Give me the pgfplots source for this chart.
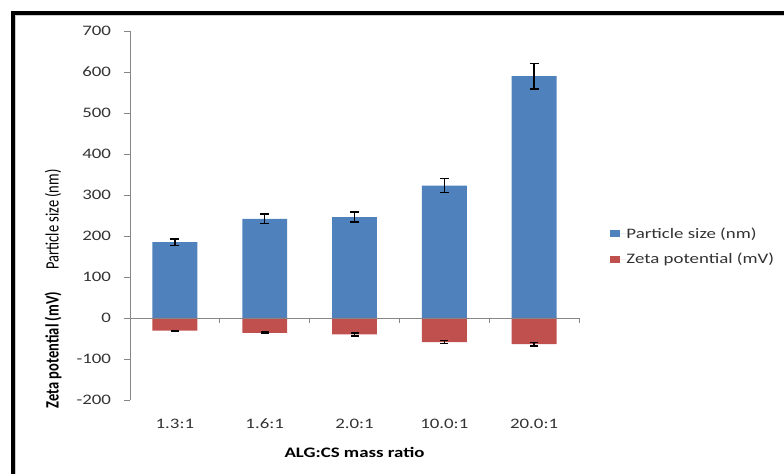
\documentclass[border=0pt]{standalone}
\usepackage{fontspec}
\setmainfont{Carlito}
\usepackage{graphicx}
\usepackage{pgfplots}
\pgfplotsset{compat=1.18}

\definecolor{psblue}{HTML}{4F81BD}
\definecolor{zpred}{HTML}{C0504D}
\definecolor{axgray}{HTML}{868686}
\definecolor{txt}{HTML}{333333}

% horizontally widened text, and its rotated counterpart
\newcommand{\wide}[1]{\scalebox{1.3}[1]{#1}}
\newcommand{\tall}[1]{\scalebox{1}[1.3]{#1}}

\pgfplotsset{
  sqlegend/.style={legend image code/.code={%
      \fill (0bp,-3.5bp) rectangle (10.5bp,3.5bp);
      \path (0bp,0bp) -- (16.5bp,0bp);}},
}

\begin{document}
\fontsize{14.5bp}{17bp}\selectfont
\begin{tikzpicture}[x=1bp,y=1bp,font=\fontsize{14.5bp}{17bp}\selectfont]
\path[use as bounding box] (0,0) rectangle (784,474);
% page frame
\draw[line width=4bp] (13,0) -- (13,461) -- (784,461);
\draw[gray!40, line width=1bp] (15.5,0) -- (15.5,458.5) -- (784,458.5);

\begin{axis}[
  at={(130bp,74bp)}, anchor=south west,
  scale only axis, width=449bp, height=369bp,
  xmin=-0.5, xmax=4.5, ymin=-200, ymax=700,
  axis lines*=left,
  x axis line style={draw=none},
  y axis line style={axgray, line width=0.8bp},
  xtick={0,1,2,3,4},
  xticklabels={\wide{1.3:1},\wide{1.6:1},\wide{2.0:1},\wide{10.0:1},\wide{20.0:1}},
  x tick style={draw=none},
  ytick={-200,-100,0,100,200,300,400,500,600,700},
  yticklabels={\wide{-200},\wide{-100},\wide{0},\wide{100},\wide{200},\wide{300},\wide{400},\wide{500},\wide{600},\wide{700}},
  y tick style={axgray, line width=0.8bp},
  tick align=outside, major tick length=6bp,
  tick label style={font=\fontsize{14.5bp}{17bp}\selectfont, text=txt},
  yticklabel style={xshift=-8bp},
  xticklabel style={yshift=-8bp},
  bar width=0.5,
  legend style={at={(1.069,0.416)}, anchor=west, draw=none, fill=none,
    inner sep=0pt, outer sep=0pt, row sep=12.5bp,
    font=\fontsize{14.5bp}{17bp}\selectfont, text=txt,
    nodes={inner sep=0pt}},
  legend cell align=left,
  clip=false,
]
\addplot[ybar, bar shift=0pt, fill=psblue, draw=none, sqlegend,
  error bars/.cd, y dir=both, y explicit,
  error bar style={black, line width=1.5bp},
  error mark options={black, rotate=90, mark size=4.5bp, line width=1.5bp}]
  coordinates {
    (0,185) +- (0,8)
    (1,242) +- (0,12)
    (2,246) +- (0,12)
    (3,323) +- (0,17)
    (4,590) +- (0,31)
  };
\addlegendentry{\wide{Particle size (nm)}}

\addplot[ybar, bar shift=0pt, fill=zpred, draw=none, sqlegend,
  error bars/.cd, y dir=both, y explicit,
  error bar style={black, line width=1.5bp},
  error mark options={black, rotate=90, mark size=4bp, line width=1.5bp}]
  coordinates {
    (0,-31) +- (0,1)
    (1,-36) +- (0,2)
    (2,-40) +- (0,3.5)
    (3,-59) +- (0,3.5)
    (4,-64) +- (0,4.5)
  };
\addlegendentry{\wide{Zeta potential (mV)}}

% category axis along zero, with ticks between categories
\draw[axgray, line width=0.8bp] (axis cs:-0.5,0) -- (axis cs:4.5,0);
\draw[axgray, line width=0.8bp] (axis cs:0.5,0) -- (axis cs:0.5,-12);
\draw[axgray, line width=0.8bp] (axis cs:1.5,0) -- (axis cs:1.5,-12);
\draw[axgray, line width=0.8bp] (axis cs:2.5,0) -- (axis cs:2.5,-12);
\draw[axgray, line width=0.8bp] (axis cs:3.5,0) -- (axis cs:3.5,-12);
\draw[axgray, line width=0.8bp] (axis cs:4.5,0) -- (axis cs:4.5,-12);
\end{axis}

% axis titles
\node[anchor=base, text=black, font=\fontsize{14.5bp}{17bp}\selectfont\bfseries] at (354.5,16) {\wide{ALG:CS mass ratio}};
\node[rotate=90, text=black] at (53,254.5) {\tall{Particle size (nm)}};
\node[rotate=90, text=black, font=\fontsize{14.5bp}{17bp}\selectfont\bfseries] at (53,124) {\tall{Zeta potential (mV)}};
\end{tikzpicture}
\end{document}
